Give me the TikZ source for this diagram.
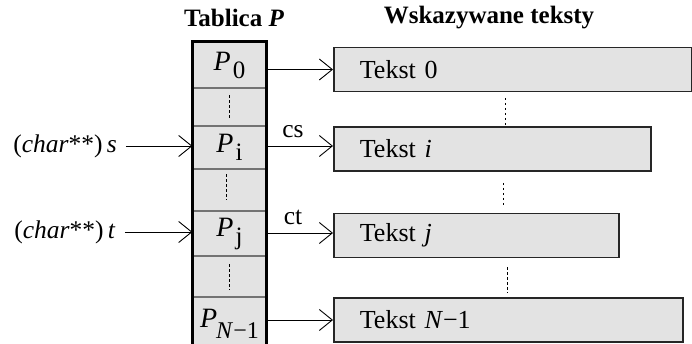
\documentclass[tikz,border=0pt]{standalone}
\usepackage{fontspec}
\setmainfont{Liberation Serif}
\usetikzlibrary{arrows.meta}

\tikzset{
  cell/.style={rectangle, fill=black!11, draw=black!55, line width=1.2pt,
    minimum width=73pt, inner sep=0pt, font=\fontsize{28}{32}\selectfont},
  txtbox/.style={rectangle, fill=black!11, draw=black!85, line width=1.8pt,
    minimum height=44pt, anchor=west, align=left, inner xsep=26pt, inner ysep=0pt,
    font=\fontsize{26}{30}\selectfont},
  ptr/.style={line width=0.9pt, -{Straight Barb[length=13pt, width=21pt, line width=0.9pt]}},
  gap/.style={line width=0.9pt, dash pattern=on 2.5pt off 2.5pt},
  heading/.style={font=\fontsize{25}{29}\selectfont\bfseries},
  plain/.style={font=\fontsize{25.5}{29}\selectfont, inner sep=0pt},
}

\newcommand{\Pidx}[1]{\textit{P}\kern2pt\raisebox{-8pt}{\fontsize{25}{28}\selectfont #1}}

\begin{document}
\begin{tikzpicture}[x=1pt, y=-1pt]
  \useasboundingbox (0,0) rectangle (692,344);
  \clip (0,0) rectangle (692,344);

  % headings
  \node[heading] (htab) at (234,18) {Tablica \textit{P}};
  \node[heading] (htxt) at (489,18) {Wskazywane teksty};

  % pointer array cells
  \node[cell, minimum height=46pt] (p0) at (229.5,65)    {\raisebox{4pt}{\Pidx{0}}};
  \node[cell, minimum height=38pt] (d1) at (229.5,107)   {};
  \node[cell, minimum height=43pt] (pi) at (229.5,147.5) {\raisebox{4pt}{\Pidx{i}}};
  \node[cell, minimum height=42pt] (d2) at (229.5,190)   {};
  \node[cell, minimum height=45pt] (pj) at (229.5,233.5) {\raisebox{4pt}{\Pidx{j}}};
  \node[cell, minimum height=41pt] (d3) at (229.5,276.5) {};
  \node[cell, minimum height=53pt] (pn) at (229.5,323.5)
    {\raisebox{6pt}{\textit{P}\kern-1pt\raisebox{-11pt}{\fontsize{24}{28}\selectfont\textit{N}−1}}};

  % thick outer frame of the array
  \draw[line width=3.6pt] (p0.south west |- p0.north) rectangle (pn.south east);

  % elided cells
  \draw[gap] (d1.north) ++(0,8) -- ++(0,24);
  \draw[gap] (d2.north) ++(-3,6) -- ++(0,26);
  \draw[gap] (d3.north) ++(0,9) -- ++(0,26);

  % pointed-to texts
  \node[txtbox, text width=306pt] (t0) at (333,69.5) {Tekst 0};
  \node[txtbox, text width=265pt] (ti) at (333,149)  {Tekst \textit{i}};
  \node[txtbox, text width=233pt] (tj) at (333,235.5) {Tekst \textit{j}};
  \node[txtbox, text width=297pt] (tn) at (333,320)  {Tekst \textit{N}−1};

  % elided texts
  \draw[gap] (505,98) -- (505,125);
  \draw[gap] (503,183) -- (503,206);
  \draw[gap] (507,267) -- (507,293);

  % pointers from the array to the texts
  \draw[ptr] (p0.east |- t0.west) -- (t0.west);
  \draw[ptr] (pi.east |- 0,146) coordinate (csl) -- (ti.west |- 0,146);
  \draw[ptr] (pj.east |- 0,233) coordinate (ctl) -- (tj.west |- 0,233);
  \draw[ptr] (pn.east |- tn.west) -- (tn.west);
  \node[plain, anchor=base] (cs) at (293,138) {cs};
  \node[plain, anchor=base] (ct) at (293,225) {ct};

  % external pointer variables
  \node[plain] (s) at (65,146) {(\textit{char}**)\,\textit{s}};
  \node[plain] (t) at (65,232) {(\textit{char}**)\,\textit{t}};
  \draw[ptr] (s.east) ++(9,0) -- (pi.west |- s.east);
  \draw[ptr] (t.east) ++(9,0) -- (pj.west |- t.east);
\end{tikzpicture}
\end{document}
